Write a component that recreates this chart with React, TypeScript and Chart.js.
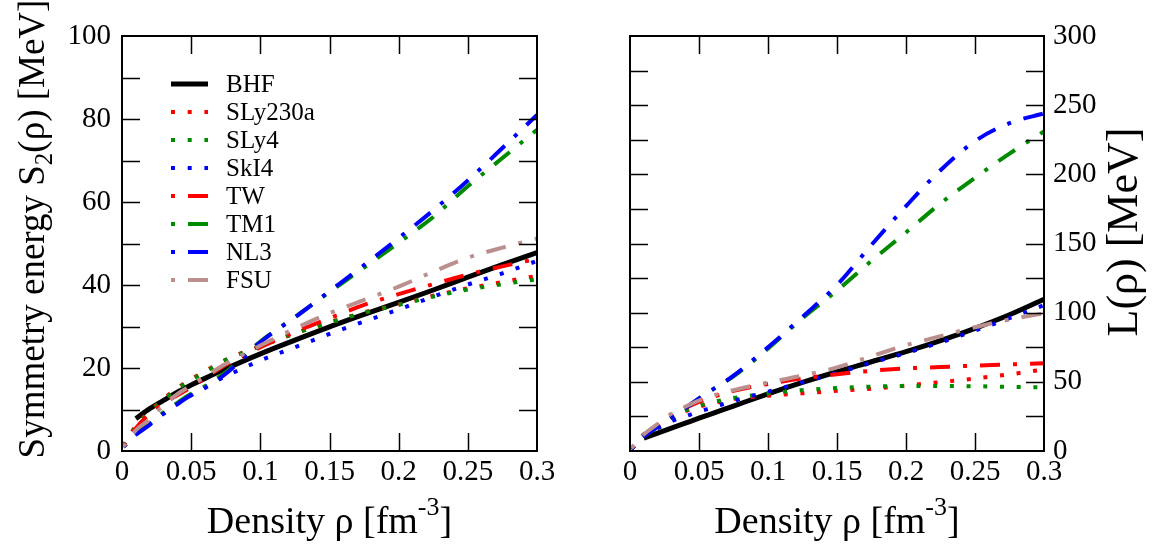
import React, { useEffect, useRef } from 'react';
import { Chart, registerables } from 'chart.js';

Chart.register(...registerables);

// ---------------- DATA ----------------
const density = [0.001, 0.01, 0.02, 0.03, 0.04, 0.05, 0.06, 0.075, 0.1, 0.125, 0.15, 0.175, 0.2, 0.225, 0.25, 0.275, 0.3];

const seriesNames = ['BHF', 'SLy230a', 'SLy4', 'SkI4', 'TW', 'TM1', 'NL3', 'FSU'];

// Symmetry energy S2(rho) [MeV]
const S_BHF = [null, 7.8, 10.2, 12.2, 14.2, 15.9, 17.5, 19.8, 23.4, 26.7, 29.9, 32.9, 35.8, 38.8, 41.9, 44.9, 47.8];
const S_SLy230a = [1.2, 6.0, 9.6, 12.5, 15.2, 17.3, 19.2, 22.0, 25.3, 28.4, 31.0, 33.4, 35.3, 37.4, 39.2, 40.7, 42.2];
const S_SLy4 = [1.2, 5.8, 9.3, 12.3, 15.0, 17.1, 19.0, 21.9, 25.2, 28.3, 30.9, 33.3, 35.2, 37.2, 38.9, 40.2, 41.4];
const S_SkI4 = [1.0, 4.0, 6.5, 9.0, 11.3, 13.4, 15.4, 18.0, 21.8, 25.0, 28.2, 31.2, 34.1, 37.2, 40.1, 42.8, 45.8];
const S_TW = [1.2, 5.5, 9.0, 11.5, 13.4, 15.4, 17.6, 20.8, 25.0, 28.7, 32.0, 35.2, 37.8, 40.2, 42.5, 44.5, 46.3];
const S_TM1 = [1.0, 4.2, 6.8, 9.3, 11.6, 13.8, 15.6, 19.0, 26.4, 32.3, 38.3, 44.2, 50.2, 56.4, 63.8, 70.6, 77.4];
const S_NL3 = [1.0, 3.9, 6.3, 9.0, 11.3, 13.5, 15.2, 18.6, 26.2, 32.2, 38.5, 44.8, 51.3, 58.0, 65.2, 73.0, 81.0];
const S_FSU = [1.0, 5.0, 7.6, 11.0, 13.7, 15.8, 17.9, 21.0, 25.4, 29.5, 33.2, 36.4, 39.6, 43.2, 46.6, 49.0, 51.2];

// Slope parameter L(rho) [MeV]
const L_BHF = [null, 9.3, 12.9, 16.5, 20.1, 23.7, 27.2, 32.5, 41.3, 49.6, 57.3, 64.5, 71.8, 79.8, 88.7, 98.5, 109.7];
const L_SLy230a = [1.5, 12.0, 18.5, 24.3, 28.7, 32.0, 34.5, 37.5, 40.0, 41.7, 43.5, 45.0, 47.3, 49.8, 52.4, 55.4, 59.0];
const L_SLy4 = [1.5, 12.0, 19.0, 25.0, 29.3, 32.7, 35.3, 38.3, 41.6, 44.0, 45.5, 46.5, 47.0, 47.0, 46.8, 46.4, 46.0];
const L_SkI4 = [1.5, 10.5, 16.5, 21.5, 25.0, 28.5, 31.5, 36.2, 42.9, 49.6, 56.5, 63.8, 70.8, 78.5, 87.0, 96.0, 105.5];
const L_TW = [2.0, 11.0, 18.0, 25.0, 31.0, 35.5, 39.0, 43.5, 48.5, 52.5, 55.5, 58.0, 59.7, 60.7, 61.7, 62.6, 63.5];
const L_TM1 = [1.5, 10.5, 17.5, 24.0, 31.0, 38.0, 44.5, 54.0, 74.0, 96.0, 116.0, 137.5, 158.0, 179.0, 197.5, 215.0, 231.0];
const L_NL3 = [1.5, 10.5, 17.5, 24.0, 31.0, 38.0, 44.5, 54.5, 75.0, 97.0, 120.0, 149.0, 177.0, 203.0, 224.0, 237.0, 244.0];
const L_FSU = [2.0, 12.0, 19.5, 27.0, 32.0, 36.5, 40.0, 44.0, 49.5, 54.5, 60.5, 68.5, 76.5, 83.0, 89.5, 95.0, 99.5];

const xTickLabels = ['0', '0.05', '0.1', '0.15', '0.2', '0.25', '0.3'];
const leftTickLabels = ['0', '20', '40', '60', '80', '100'];
const rightTickLabels = ['0', '50', '100', '150', '200', '250', '300'];

// ---------------- STYLE ----------------
const FONT = "'Liberation Serif', 'Times New Roman', serif";
Chart.defaults.font.family = FONT;
const RED = '#ff0000';
const GREEN = 'rgb(0,139,0)';
const BLUE = '#0000ff';
const ROSY = 'rgb(188,143,143)';
const DOT = [4, 12.7];
const DASHDOT = [4, 13, 20, 13];

const seriesStyle = [
  { color: '#000000', width: 5, dash: [] as number[] },
  { color: RED, width: 4, dash: DOT },
  { color: GREEN, width: 4, dash: DOT },
  { color: BLUE, width: 4, dash: DOT },
  { color: RED, width: 4, dash: DASHDOT },
  { color: GREEN, width: 4, dash: DASHDOT },
  { color: BLUE, width: 4, dash: DASHDOT },
  { color: ROSY, width: 4, dash: DASHDOT },
];

function makeDatasets(values: (number | null)[][]) {
  return values.map((vals, i) => ({
    label: seriesNames[i],
    data: density.map((x, j) => ({ x, y: vals[j] })),
    borderColor: seriesStyle[i].color,
    backgroundColor: seriesStyle[i].color,
    borderWidth: seriesStyle[i].width,
    borderDash: seriesStyle[i].dash,
    borderCapStyle: 'butt',
    pointRadius: 0,
    fill: false,
    cubicInterpolationMode: 'monotone',
    order: values.length - i,
  }));
}

type Part = { t: string; size: number; dy?: number };

function drawRich(ctx: CanvasRenderingContext2D, parts: Part[], cx: number, baseline: number) {
  let total = 0;
  const widths = parts.map((p) => {
    ctx.font = `${p.size}px ${FONT}`;
    const w = ctx.measureText(p.t).width;
    total += w;
    return w;
  });
  let x = cx - total / 2;
  ctx.textBaseline = 'alphabetic';
  ctx.textAlign = 'left';
  parts.forEach((p, i) => {
    ctx.font = `${p.size}px ${FONT}`;
    ctx.fillText(p.t, x, baseline + (p.dy || 0));
    x += widths[i];
  });
}

function frameTicksPlugin(yMinorStep: number, yKey: string) {
  return {
    id: 'frameTicks',
    afterDatasetsDraw(chart: any) {
      const { ctx, chartArea: a } = chart;
      const xs = chart.scales.x;
      const ys = chart.scales[yKey];
      const T = 18;
      ctx.save();
      ctx.strokeStyle = '#000';
      ctx.lineWidth = 1.5;
      ctx.setLineDash([]);
      ctx.beginPath();
      xs.ticks.forEach((tk: any) => {
        if (tk.value <= xs.min + 1e-9 || tk.value >= xs.max - 1e-9) return;
        const px = Math.round(xs.getPixelForValue(tk.value)) + 0.5;
        ctx.moveTo(px, a.bottom);
        ctx.lineTo(px, a.bottom - T);
        ctx.moveTo(px, a.top);
        ctx.lineTo(px, a.top + T);
      });
      for (let v = ys.min + yMinorStep; v < ys.max - 1e-9; v += yMinorStep) {
        const py = Math.round(ys.getPixelForValue(v)) + 0.5;
        ctx.moveTo(a.left, py);
        ctx.lineTo(a.left + T, py);
        ctx.moveTo(a.right, py);
        ctx.lineTo(a.right - T, py);
      }
      ctx.stroke();
      ctx.lineWidth = 2;
      ctx.strokeRect(a.left, a.top, a.right - a.left, a.bottom - a.top);
      ctx.restore();
    },
  };
}

const xTitleParts: Part[] = [
  { t: 'Density ρ [fm', size: 38 },
  { t: '-3', size: 26, dy: -18 },
  { t: ']', size: 38 },
];

const legendPlugin = {
  id: 'customLegend',
  afterDraw(chart: any) {
    const ctx = chart.ctx as CanvasRenderingContext2D;
    ctx.save();
    chart.data.datasets.forEach((ds: any, i: number) => {
      const y = 84 + i * 28;
      ctx.strokeStyle = ds.borderColor;
      ctx.lineWidth = ds.borderWidth;
      ctx.setLineDash(ds.borderDash || []);
      ctx.lineCap = 'butt';
      ctx.beginPath();
      ctx.moveTo(171, y);
      ctx.lineTo(208, y);
      ctx.stroke();
      ctx.setLineDash([]);
      ctx.fillStyle = '#000';
      ctx.font = `25px ${FONT}`;
      ctx.textBaseline = 'middle';
      ctx.textAlign = 'left';
      ctx.fillText(ds.label, 226, y + 1);
    });
    ctx.restore();
  },
};

const leftTitlesPlugin = {
  id: 'leftTitles',
  afterDraw(chart: any) {
    const ctx = chart.ctx as CanvasRenderingContext2D;
    const a = chart.chartArea;
    ctx.save();
    ctx.fillStyle = '#000';
    drawRich(ctx, xTitleParts, (a.left + a.right) / 2, 533);
    ctx.translate(44, 229);
    ctx.rotate(-Math.PI / 2);
    drawRich(
      ctx,
      [
        { t: 'Symmetry energy S', size: 37 },
        { t: '2', size: 25, dy: 8 },
        { t: '(ρ) [MeV]', size: 37 },
      ],
      0,
      0
    );
    ctx.restore();
  },
};

const rightTitlesPlugin = {
  id: 'rightTitles',
  afterDraw(chart: any) {
    const ctx = chart.ctx as CanvasRenderingContext2D;
    const a = chart.chartArea;
    ctx.save();
    ctx.fillStyle = '#000';
    drawRich(ctx, xTitleParts, (a.left + a.right) / 2, 533);
    ctx.translate(1137 - 580, 232);
    ctx.rotate(-Math.PI / 2);
    drawRich(ctx, [{ t: 'L(ρ) [MeV]', size: 44 }], 0, 0);
    ctx.restore();
  },
};

const tickFont = { family: FONT, size: 29 };

function xScale() {
  return {
    type: 'linear',
    min: 0,
    max: 0.3,
    grid: { display: false, drawTicks: false },
    border: { display: false },
    ticks: {
      stepSize: 0.05,
      color: '#000',
      font: tickFont,
      padding: 4,
      maxRotation: 0,
      autoSkip: false,
      callback: (_v: any, i: number) => xTickLabels[i],
    },
    afterFit: (s: any) => {
      s.height = 101;
    },
  };
}

export default function App() {
  const leftRef = useRef<HTMLCanvasElement>(null);
  const rightRef = useRef<HTMLCanvasElement>(null);

  useEffect(() => {
    const left = new Chart(leftRef.current as HTMLCanvasElement, {
      type: 'line',
      data: {
        datasets: makeDatasets([S_BHF, S_SLy230a, S_SLy4, S_SkI4, S_TW, S_TM1, S_NL3, S_FSU]) as any,
      },
      options: {
        responsive: false,
        animation: false,
        devicePixelRatio: 1,
        layout: { padding: { top: 36, right: 43, left: 0, bottom: 0 } },
        plugins: { legend: { display: false }, tooltip: { enabled: false } },
        scales: {
          x: xScale() as any,
          y: {
            type: 'linear',
            min: 0,
            max: 100,
            grid: { display: false, drawTicks: false },
            border: { display: false },
            ticks: {
              stepSize: 20,
              color: '#000',
              font: tickFont,
              padding: 11,
              callback: (_v: any, i: number) => leftTickLabels[i],
            },
            afterFit: (s: any) => {
              s.width = 122;
            },
          },
        },
      },
      plugins: [frameTicksPlugin(10, 'y'), legendPlugin, leftTitlesPlugin],
    });

    const right = new Chart(rightRef.current as HTMLCanvasElement, {
      type: 'line',
      data: {
        datasets: makeDatasets([L_BHF, L_SLy230a, L_SLy4, L_SkI4, L_TW, L_TM1, L_NL3, L_FSU]) as any,
      },
      options: {
        responsive: false,
        animation: false,
        devicePixelRatio: 1,
        layout: { padding: { top: 36, right: 0, left: 50, bottom: 0 } },
        plugins: { legend: { display: false }, tooltip: { enabled: false } },
        scales: {
          x: xScale() as any,
          y: {
            type: 'linear',
            position: 'right',
            min: 0,
            max: 300,
            grid: { display: false, drawTicks: false },
            border: { display: false },
            ticks: {
              stepSize: 50,
              color: '#000',
              font: tickFont,
              padding: 9,
              callback: (_v: any, i: number) => rightTickLabels[i],
            },
            afterFit: (s: any) => {
              s.width = 109;
            },
          },
        },
      },
      plugins: [frameTicksPlugin(25, 'y'), rightTitlesPlugin],
    });

    return () => {
      left.destroy();
      right.destroy();
    };
  }, []);

  return (
    <div style={{ position: 'absolute', left: 0, top: 0, width: 1153, height: 552, background: '#fff', overflow: 'hidden' }}>
      <canvas ref={leftRef} width={580} height={552} style={{ position: 'absolute', left: 0, top: 0, width: 580, height: 552 }} />
      <canvas ref={rightRef} width={573} height={552} style={{ position: 'absolute', left: 580, top: 0, width: 573, height: 552 }} />
    </div>
  );
}
